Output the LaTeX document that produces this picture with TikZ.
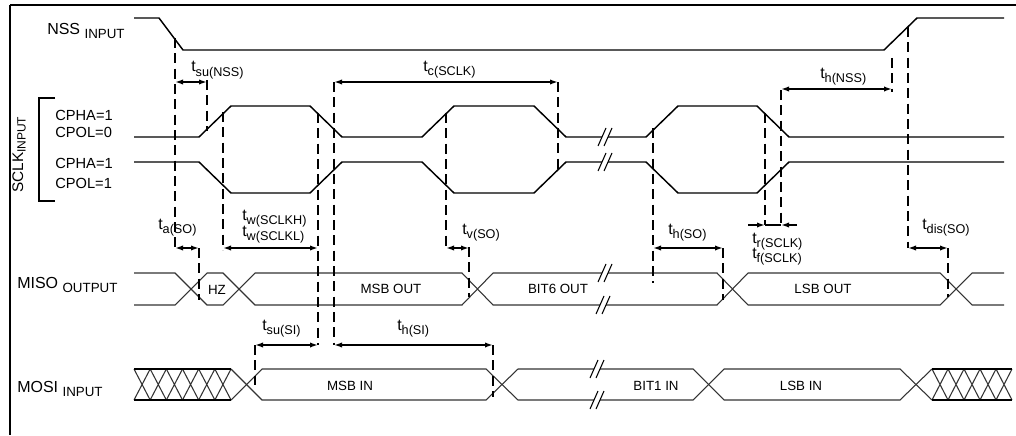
\documentclass[tikz,border=0pt]{standalone}
\usepackage{fontspec}
\setmainfont{Liberation Sans}
\usetikzlibrary{arrows.meta}
\newcommand\lowsub[1]{\raisebox{-3pt}{\fontsize{10}{12}\selectfont #1}}
\newcommand\tsub[1]{t\raisebox{-3pt}{\fontsize{9.5}{11}\selectfont #1}}
\begin{document}
\begin{tikzpicture}[x=0.75pt,y=-0.75pt,line join=miter,
  sig/.style={line width=1.1pt,black},
  bus/.style={line width=0.8pt,black!80},
  dsh/.style={line width=1.4pt,dash pattern=on 7.5pt off 4pt},
  dim/.style={line width=1.2pt,{Latex[length=6pt,width=4pt]}-{Latex[length=6pt,width=4pt]}},
  dimr/.style={line width=1.2pt,-{Latex[length=6pt,width=4pt]}},
  lbl/.style={font=\fontsize{12}{14}\selectfont,inner sep=0pt,anchor=base west},
  cp/.style={font=\fontsize{11}{13}\selectfont,inner sep=0pt,anchor=base west},
  buslbl/.style={font=\fontsize{10}{12}\selectfont,inner sep=0pt,anchor=base},
  tlab/.style={font=\fontsize{12}{14}\selectfont,inner sep=0pt,anchor=base west},
  brk/.pic={\fill[white] (-7,9)--(-1,9)--(7,-9)--(1,-9)--cycle;
            \draw[line width=0.8pt] (-7,9)--(1,-9) (-1,9)--(7,-9);}]
\useasboundingbox (0,0) rectangle (1016,435);
% frame
\draw[line width=2pt] (10,5)--(1016,5);
\draw[line width=0.8pt] (10,5)--(10,435);
% labels
\node[lbl] (nss) at (47,35) {NSS \lowsub{INPUT}};
\node[lbl,rotate=90,font=\fontsize{11.5}{13}\selectfont] (sclk) at (23,193) {SCLK\raisebox{-2pt}{\fontsize{9}{10}\selectfont INPUT}};
\node[lbl] (miso) at (17,288) {MISO \lowsub{OUTPUT}};
\node[lbl] (mosi) at (17,392) {MOSI \lowsub{INPUT}};
\node[cp] (cpha0) at (55,120) {CPHA=1};
\node[cp] (cpol0) at (55,137) {CPOL=0};
\node[cp] (cpha1) at (55,168) {CPHA=1};
\node[cp] (cpol1) at (55,188) {CPOL=1};
\draw[line width=1.5pt] (55,98)--(39,98)--(39,201)--(55,201);
% NSS
\draw[sig] (134,18)--(159,18)--(183,50)--(884,50)--(917,18)--(1004,18);
% SCLK
\draw[sig] (134,137)--(199,137)--(231,106)--(310,106)--(342,137)--(422,137)--(454,106)--(534,106)--(566,137)--(646,137)--(678,106)--(757,106)--(789,137)--(1004,137);
\draw[sig] (134,162)--(199,162)--(231,193)--(310,193)--(342,162)--(422,162)--(454,193)--(534,193)--(566,162)--(646,162)--(678,193)--(757,193)--(789,162)--(1004,162);
\pic at (605,137) {brk};
\pic at (605,162) {brk};
% MISO
\draw[bus] (134,273)--(175,273)--(207,305)--(223,305)--(255,273)--(462,273)--(493,305)--(717,305)--(748,273)--(940,273)--(972,305)--(1004,305);
\draw[bus] (134,305)--(175,305)--(207,273)--(223,273)--(255,305)--(462,305)--(493,273)--(717,273)--(748,305)--(940,305)--(972,273)--(1004,273);
\pic at (605,273) {brk};
\pic at (603,305) {brk};
\node[buslbl] (hz) at (217,294) {HZ};
\node[buslbl] (msbo) at (391,293) {MSB OUT};
\node[buslbl] (b6o) at (558,293) {BIT6 OUT};
\node[buslbl] (lsbo) at (823,293) {LSB OUT};
% MOSI
\draw[bus] (231,369)--(262,400)--(486,400)--(518,369)--(693,369)--(724,400)--(900,400)--(932,369);
\draw[bus] (231,400)--(262,369)--(486,369)--(518,400)--(693,400)--(724,369)--(900,369)--(932,400);
\foreach \k in {0,...,5} {
  \draw[bus] ({134+\k*16.17},369)--({134+(\k+1)*16.17},400) ({134+\k*16.17},400)--({134+(\k+1)*16.17},369);
}
\draw[line width=1.5pt] (134,369)--(231,369) (134,400)--(231,400);
\foreach \k in {0,...,4} {
  \draw[bus] ({932+\k*16},369)--({932+(\k+1)*16},400) ({932+\k*16},400)--({932+(\k+1)*16},369);
}
\draw[line width=1.5pt] (932,369)--(1012,369) (932,400)--(1012,400);
\pic at (597,369) {brk};
\pic at (597,400) {brk};
\node[buslbl] (msbi) at (350,390) {MSB IN};
\node[buslbl] (b1i) at (656,390) {BIT1 IN};
\node[buslbl] (lsbi) at (801,390) {LSB IN};
% dashed verticals
\draw[dsh] (175,38)--(175,250);
\draw[dsh] (207,80)--(207,131);
\draw[dsh] (223,112)--(223,250);
\draw[dsh] (318,113)--(318,345);
\draw[dsh] (334,82)--(334,345);
\draw[dsh] (446,113)--(446,250);
\draw[dsh] (558,82)--(558,170);
\draw[dsh] (469,247)--(469,297);
\draw[dsh] (199,248)--(199,300);
\draw[dsh] (653,128)--(653,283);
\draw[dsh] (723,248)--(723,300);
\draw[dsh] (765,113)--(765,225);
\draw[dsh] (781,90)--(781,225);
\draw[dsh] (892,58)--(892,92);
\draw[dsh] (908,27)--(908,248);
\draw[dsh] (948,248)--(948,297);
\draw[dsh] (255,345)--(255,385);
\draw[dsh] (493,345)--(493,397);
% dimension coordinates
\coordinate (a1) at (175,82); \coordinate (a2) at (207,82);
\coordinate (c1) at (334,82); \coordinate (c2) at (558,82);
\coordinate (n1) at (781,89); \coordinate (n2) at (892,89);
\coordinate (ta1) at (175,248); \coordinate (ta2) at (199,248);
\coordinate (w1) at (223,248); \coordinate (w2) at (318,248);
\coordinate (v1) at (446,248); \coordinate (v2) at (469,248);
\coordinate (h1) at (653,248); \coordinate (h2) at (723,248);
\coordinate (r0) at (748,225); \coordinate (r1) at (765,225);
\coordinate (r2) at (781,225); \coordinate (r3) at (797,225);
\coordinate (d1) at (908,248); \coordinate (d2) at (948,248);
\coordinate (s1) at (255,345); \coordinate (s2) at (318,345);
\coordinate (i1) at (334,345); \coordinate (i2) at (493,345);
\draw[dim] (a1)--(a2);
\draw[dim] (c1)--(c2);
\draw[dim] (n1)--(n2);
\draw[dim] (ta1)--(ta2);
\draw[dim] (w1)--(w2);
\draw[dim] (v1)--(v2);
\draw[dim] (h1)--(h2);
\draw[dimr] (r0)--(r1);
\draw[line width=1.2pt] (r1)--(r2);
\draw[dimr] (r3)--(r2);
\draw[dim] (d1)--(d2);
\draw[dim] (s1)--(s2);
\draw[dim] (i1)--(i2);
% timing labels
\node[tlab] (tsun) at (191,72) {\tsub{su(NSS)}};
\node[tlab] (tc) at (423,71) {\tsub{c(SCLK)}};
\node[tlab] (thn) at (820,79) {\tsub{h(NSS)}};
\node[tlab] (ta) at (158,229) {\tsub{a(SO)}};
\node[tlab] (twh) at (242,220) {\tsub{w(SCLKH)}};
\node[tlab] (twl) at (242,236) {\tsub{w(SCLKL)}};
\node[tlab] (tv) at (462,234) {\tsub{v(SO)}};
\node[tlab] (tho) at (668,234) {\tsub{h(SO)}};
\node[tlab] (tr) at (752,243) {\tsub{r(SCLK)}};
\node[tlab] (tf) at (752,258) {\tsub{f(SCLK)}};
\node[tlab] (tdis) at (922,229) {\tsub{dis(SO)}};
\node[tlab] (tsui) at (262,330) {\tsub{su(SI)}};
\node[tlab] (thi) at (397,330) {\tsub{h(SI)}};
\end{tikzpicture}
\end{document}
